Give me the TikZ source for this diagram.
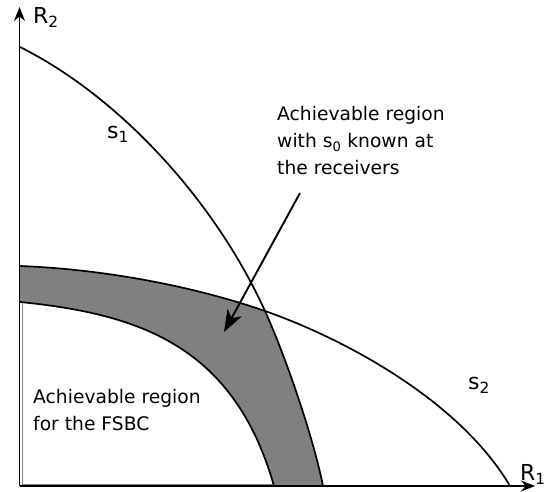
\documentclass[tikz,border=0pt]{standalone}
\usepackage{fontspec}
\setmainfont{DejaVu Sans}
\usetikzlibrary{arrows.meta}

\begin{document}
\begin{tikzpicture}[x=1pt,y=-1pt,
  achse/.style={line width=1.8pt,-{Stealth[length=14pt,width=11pt]}},
  kurve/.style={line width=1.7pt},
  beschr/.style={font=\fontsize{18.7}{27}\selectfont, align=left, inner sep=0pt},
  achsentext/.style={font=\fontsize{22}{26}\selectfont, inner sep=0pt}]
	\useasboundingbox (0,0) rectangle (554,491);
	
	% Koordinaten
	\coordinate (O) at (19.5,486);
	\coordinate (X) at (265,311); % Schnittpunkt s1 / s2
	
	% graue Flaeche
	\fill[gray] (20,266) .. controls (100,269) and (190,285) .. (X)
		.. controls (285,355) and (313,436) .. (323,486)
		-- (274,486) .. controls (234,346) and (140,314) .. (20,302) -- cycle;
	\draw[gray, thin] (22,302) -- (22,484) -- (274,484);
	
	% Kurven
	\draw[kurve] (20,302) .. controls (140,314) and (234,346) .. (274,486);
	\draw[kurve] (20,47) .. controls (120,97) and (215,201) .. (X)
		.. controls (285,355) and (313,436) .. (323,486);
	\draw[kurve] (20,266) .. controls (100,269) and (190,285) .. (X)
		.. controls (345,339) and (460,401) .. (510,486);
	
	% Achsen
	\draw[achse] (O) -- (19.5,7);
	\draw[achse] (O) -- (535,486);
	\node[achsentext, anchor=base west] (r2) at (33,23) {R\textsubscript{2}};
	\node[achsentext, anchor=base west] (r1) at (520,480) {R\textsubscript{1}};
	\node[achsentext, anchor=base west] (s1) at (107,138) {s\textsubscript{1}};
	\node[achsentext, anchor=base west] (s2) at (468,389) {s\textsubscript{2}};
	
	% Beschriftung
	\node[beschr, anchor=north west] (regionA) at (277,106)
		{Achievable region\\with s\textsubscript{0} known at\\the receivers};
	\node[beschr, anchor=north west] (regionB) at (33,389)
		{Achievable region\\for the FSBC};
	
	% Pfeil
	\coordinate (pfeilA) at (300,193);
	\coordinate (pfeilB) at (224,332);
	\draw[line width=1.9pt, -{Stealth[length=22pt,width=16pt,inset=6pt]}] (pfeilA) -- (pfeilB);
\end{tikzpicture}
\end{document}
